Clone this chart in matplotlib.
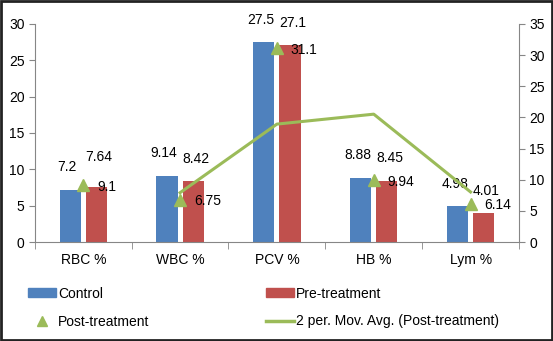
import matplotlib
matplotlib.use("Agg")
import matplotlib.pyplot as plt
import numpy as np
from matplotlib.patches import Rectangle, Patch
from matplotlib.lines import Line2D

categories = ["RBC %", "WBC %", "PCV %", "HB %", "Lym %"]
control = [7.2, 9.14, 27.5, 8.88, 4.98]
pre_treatment = [7.64, 8.42, 27.1, 8.45, 4.01]
post_treatment = [9.1, 6.75, 31.1, 9.94, 6.14]

blue = "#4F81BD"
red = "#C0504D"
green = "#9BBB59"
grey = "#868686"

plt.rcParams["font.family"] = ["Liberation Sans", "DejaVu Sans"]
plt.rcParams["font.size"] = 10

fig = plt.figure(figsize=(5.53, 3.41), dpi=100)
ax = fig.add_axes([0.063, 0.29, 0.8755, 0.64])
ax2 = ax.twinx()

x = np.arange(len(categories))
w = 0.22
gap = 0.05
ax.bar(x - (w + gap) / 2, control, w, color=blue, zorder=2)
ax.bar(x + (w + gap) / 2, pre_treatment, w, color=red, zorder=2)

# 2-period moving average of post-treatment
post = np.array(post_treatment)
ma = (post[1:] + post[:-1]) / 2
ax2.plot(x[1:], ma, color=green, lw=2.2, zorder=3)
ax2.plot(x, post, "^", color=green, ms=9, ls="none", zorder=4)

for i in range(len(categories)):
    ax.annotate(f"{control[i]}", (x[i] - (w + gap) / 2, control[i]),
                xytext=(-2, 11), textcoords="offset points", ha="center", va="bottom")
    ax.annotate(f"{pre_treatment[i]}", (x[i] + (w + gap) / 2, pre_treatment[i]),
                xytext=(2, 11 if i != 0 else 16), textcoords="offset points",
                ha="center", va="bottom")
    ax2.annotate(f"{post_treatment[i]}", (x[i], post_treatment[i]),
                 xytext=(10, -1), textcoords="offset points", ha="left", va="center")

ax.set_xlim(-0.5, 4.5)
ax.set_ylim(0, 30)
ax2.set_ylim(0, 35)
ax.set_yticks(range(0, 31, 5))
ax2.set_yticks(range(0, 36, 5))
ax.set_xticks(x)
ax.set_xticklabels(categories)
ax.set_xticks(np.arange(-0.5, 5, 1), minor=True)
ax.tick_params(axis="x", which="major", length=0, pad=8)
ax.tick_params(axis="x", which="minor", length=5, color=grey)
ax.tick_params(axis="y", length=4, color=grey)
ax2.tick_params(axis="y", length=4, color=grey)

for a in (ax, ax2):
    for s in a.spines.values():
        s.set_visible(False)
ax.spines["left"].set_visible(True)
ax.spines["bottom"].set_visible(True)
ax2.spines["right"].set_visible(True)
for s in (ax.spines["left"], ax.spines["bottom"], ax2.spines["right"]):
    s.set_color(grey)

handles = [Patch(color=blue, label="Control"),
           Line2D([], [], marker="^", color=green, ls="none", ms=7, label="Post-treatment"),
           Patch(color=red, label="Pre-treatment"),
           Line2D([], [], color=green, lw=2.5, label="2 per. Mov. Avg. (Post-treatment)")]
fig.legend(handles=handles, ncol=2, loc="lower left", bbox_to_anchor=(0.028, 0.0),
           frameon=False, handlelength=2.0, handleheight=0.6, handletextpad=0.15,
           columnspacing=8.4, labelspacing=1.0, fontsize=10)

fig.patches.append(Rectangle((0.002, 0.003), 0.996, 0.994, transform=fig.transFigure,
                             fill=False, edgecolor="#222222", lw=2))

fig.savefig("out.png", dpi=100)
